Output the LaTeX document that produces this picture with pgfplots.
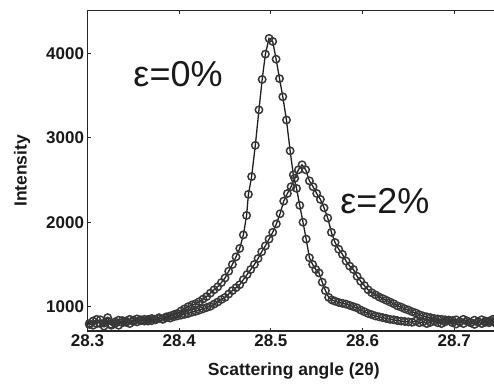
\documentclass[border=0pt]{standalone}
\usepackage{fontspec}
\setmainfont{Liberation Sans}
\usepackage{pgfplots}
\pgfplotsset{compat=1.18}
\begin{document}
\begin{tikzpicture}
\begin{axis}[
  at={(0pt,0pt)}, anchor=south west,
  scale only axis,
  width=412.6pt, height=320.3pt,
  xmin=28.3, xmax=28.75,
  ymin=712, ymax=4504,
  xtick={28.3,28.4,28.5,28.6,28.7},
  ytick={1000,2000,3000,4000},
  tick align=inside,
  major tick length=3.5pt,
  axis line style={line width=1.1pt, black!85},
  tick style={line width=0.9pt, black!85},
  /pgf/number format/assume math mode=true,
  /pgf/number format/1000 sep={},
  xticklabel style={/pgf/number format/fixed, /pgf/number format/precision=1},
  ticklabel style={font=\bfseries\fontsize{17}{17}\selectfont, black!90},
  xlabel={Scattering angle (2θ)},
  ylabel={Intensity},
  label style={font=\bfseries\fontsize{17.5}{17.5}\selectfont, black!90},
  xlabel style={yshift=-9pt},
  ylabel style={yshift=9pt},
]
% epsilon = 0 %
\addplot[line width=1.3pt, color=black!88, mark=o, mark size=3.7pt,
  mark options={line width=1.5pt, fill=none, color=black!78}] coordinates {
(28.298,810) (28.302,790) (28.306,830) (28.310,800) (28.314,845) (28.318,805)
(28.322,870) (28.326,790) (28.330,820) (28.334,780) (28.338,835) (28.342,815)
(28.346,850) (28.350,825) (28.354,855) (28.358,835) (28.362,850) (28.366,830)
(28.370,860) (28.374,845) (28.378,870) (28.382,855) (28.386,880) (28.390,890)
(28.394,905) (28.398,920) (28.402,950) (28.406,975) (28.410,1000) (28.414,1020)
(28.418,1035) (28.422,1060) (28.426,1090) (28.430,1120) (28.434,1160) (28.438,1200)
(28.442,1235) (28.446,1285) (28.450,1340) (28.454,1420) (28.458,1500) (28.462,1590)
(28.466,1690) (28.470,1850) (28.4735,2080) (28.4755,2330) (28.479,2540) (28.483,2910)
(28.487,3330) (28.4905,3690) (28.494,3990) (28.498,4176) (28.502,4140) (28.5057,3930)
(28.5094,3700) (28.513,3485) (28.517,3210) (28.521,2845) (28.5245,2560) (28.528,2400)
(28.5315,2200) (28.535,2000) (28.5385,1800) (28.542,1580) (28.5455,1500) (28.549,1440)
(28.5525,1400) (28.556,1290) (28.5595,1190) (28.563,1110) (28.5665,1080) (28.570,1065)
(28.574,1050) (28.578,1040) (28.582,1030) (28.586,1015) (28.590,1000) (28.594,985)
(28.598,960) (28.602,940) (28.606,920) (28.610,905) (28.614,890) (28.618,880)
(28.622,870) (28.626,860) (28.630,850) (28.634,845) (28.638,835) (28.642,830)
(28.646,825) (28.650,820) (28.654,815) (28.658,830) (28.662,810) (28.666,820)
(28.670,800) (28.674,815) (28.678,830) (28.682,810) (28.686,800) (28.690,820)
(28.694,840) (28.698,810) (28.702,795) (28.706,820) (28.710,800) (28.714,830)
(28.718,810) (28.722,790) (28.726,820) (28.730,800) (28.734,830) (28.738,810)
(28.742,825) (28.746,800)
};
% epsilon = 2 %
\addplot[line width=1.3pt, color=black!88, mark=o, mark size=3.7pt,
  mark options={line width=1.5pt, fill=none, color=black!78}] coordinates {
(28.298,840) (28.302,800) (28.306,780) (28.310,850) (28.314,800) (28.318,770)
(28.322,830) (28.326,780) (28.330,800) (28.334,840) (28.338,810) (28.342,830)
(28.346,800) (28.350,840) (28.354,820) (28.358,845) (28.362,830) (28.366,850)
(28.370,835) (28.374,845) (28.378,860) (28.382,850) (28.386,870) (28.390,865)
(28.394,880) (28.398,890) (28.402,900) (28.406,910) (28.410,920) (28.414,935)
(28.418,945) (28.422,960) (28.426,975) (28.430,990) (28.434,1005) (28.438,1030)
(28.442,1055) (28.446,1085) (28.450,1110) (28.454,1150) (28.458,1190) (28.462,1225)
(28.466,1260) (28.470,1320) (28.474,1380) (28.478,1440) (28.482,1500) (28.486,1570)
(28.490,1650) (28.494,1720) (28.498,1800) (28.502,1880) (28.506,1980) (28.510,2100)
(28.514,2250) (28.518,2340) (28.522,2420) (28.526,2520) (28.530,2620) (28.534,2680)
(28.538,2620) (28.542,2490) (28.546,2420) (28.550,2340) (28.554,2270) (28.558,2170)
(28.562,2050) (28.566,1880) (28.570,1760) (28.574,1680) (28.578,1620) (28.582,1540)
(28.586,1480) (28.590,1440) (28.594,1360) (28.598,1300) (28.602,1250) (28.606,1200)
(28.610,1165) (28.614,1140) (28.618,1115) (28.622,1095) (28.626,1075) (28.630,1055)
(28.634,1035) (28.638,1010) (28.642,995) (28.646,975) (28.650,960) (28.654,940)
(28.658,925) (28.662,905) (28.666,890) (28.670,880) (28.674,870) (28.678,860)
(28.682,855) (28.686,850) (28.690,845) (28.694,840) (28.698,835) (28.702,845)
(28.706,820) (28.710,850) (28.714,830) (28.718,810) (28.722,840) (28.726,820)
(28.730,845) (28.734,815) (28.738,830) (28.742,850) (28.746,820)
};
\node[anchor=base, font=\fontsize{36}{36}\selectfont, black!90] at (axis cs:28.3987,3605) {ε=0\%};
\node[anchor=base, font=\fontsize{36}{36}\selectfont, black!90] at (axis cs:28.6244,2106) {ε=2\%};
\end{axis}
\pgfresetboundingbox
\path[use as bounding box] (-87.5pt,-54pt) rectangle (406.5pt,331pt);
\end{tikzpicture}
\end{document}
